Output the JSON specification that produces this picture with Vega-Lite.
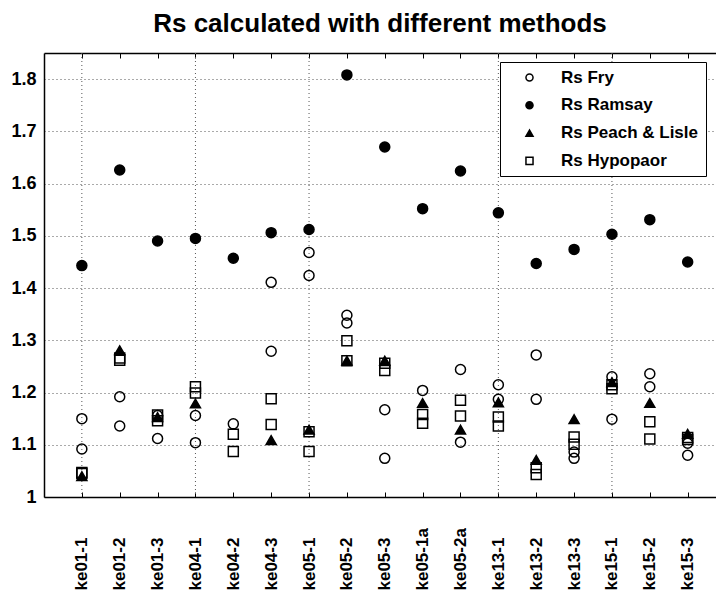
{
  "$schema": "https://vega.github.io/schema/vega-lite/v6.json",
  "autosize": {"type": "none"},
  "padding": {"left": 44, "top": 53, "right": 0, "bottom": 95},
  "width": 672,
  "height": 444,
  "background": "white",
  "title": {
    "text": "Rs calculated with different methods",
    "font": "Liberation Sans",
    "fontSize": 26,
    "fontWeight": "bold",
    "color": "black",
    "anchor": "middle",
    "baseline": "alphabetic",
    "offset": 0,
    "dy": 5
  },
  "config": {
    "view": {"stroke": null},
    "legend": {
      "orient": "none",
      "legendX": 456,
      "legendY": 9,
      "strokeColor": "black",
      "fillColor": "white",
      "padding": 7,
      "labelFont": "Liberation Sans",
      "labelFontSize": 17,
      "labelFontWeight": "bold",
      "labelColor": "black",
      "symbolSize": 50,
      "symbolStrokeColor": "black",
      "symbolStrokeWidth": 1.5,
      "symbolOffset": 14,
      "labelOffset": 23,
      "rowPadding": 9.8,
      "labelLimit": 300
    }
  },
  "datasets": {
    "groups": [
      {"sample": "ke01-1"},
      {"sample": "ke04-1"},
      {"sample": "ke05-1"},
      {"sample": "ke13-1"},
      {"sample": "ke15-1"}
    ],
    "rs": [
      {"sample": "ke01-1", "method": "Rs Fry", "value": 1.150},
      {"sample": "ke01-1", "method": "Rs Fry", "value": 1.092},
      {"sample": "ke01-2", "method": "Rs Fry", "value": 1.192},
      {"sample": "ke01-2", "method": "Rs Fry", "value": 1.136},
      {"sample": "ke01-3", "method": "Rs Fry", "value": 1.156},
      {"sample": "ke01-3", "method": "Rs Fry", "value": 1.112},
      {"sample": "ke04-1", "method": "Rs Fry", "value": 1.156},
      {"sample": "ke04-1", "method": "Rs Fry", "value": 1.104},
      {"sample": "ke04-2", "method": "Rs Fry", "value": 1.140},
      {"sample": "ke04-3", "method": "Rs Fry", "value": 1.411},
      {"sample": "ke04-3", "method": "Rs Fry", "value": 1.279},
      {"sample": "ke05-1", "method": "Rs Fry", "value": 1.468},
      {"sample": "ke05-1", "method": "Rs Fry", "value": 1.424},
      {"sample": "ke05-2", "method": "Rs Fry", "value": 1.348},
      {"sample": "ke05-2", "method": "Rs Fry", "value": 1.333},
      {"sample": "ke05-3", "method": "Rs Fry", "value": 1.167},
      {"sample": "ke05-3", "method": "Rs Fry", "value": 1.074},
      {"sample": "ke05-1a", "method": "Rs Fry", "value": 1.204},
      {"sample": "ke05-2a", "method": "Rs Fry", "value": 1.244},
      {"sample": "ke05-2a", "method": "Rs Fry", "value": 1.105},
      {"sample": "ke13-1", "method": "Rs Fry", "value": 1.215},
      {"sample": "ke13-1", "method": "Rs Fry", "value": 1.187},
      {"sample": "ke13-2", "method": "Rs Fry", "value": 1.272},
      {"sample": "ke13-2", "method": "Rs Fry", "value": 1.187},
      {"sample": "ke13-3", "method": "Rs Fry", "value": 1.086},
      {"sample": "ke13-3", "method": "Rs Fry", "value": 1.074},
      {"sample": "ke15-1", "method": "Rs Fry", "value": 1.230},
      {"sample": "ke15-1", "method": "Rs Fry", "value": 1.149},
      {"sample": "ke15-2", "method": "Rs Fry", "value": 1.236},
      {"sample": "ke15-2", "method": "Rs Fry", "value": 1.211},
      {"sample": "ke15-3", "method": "Rs Fry", "value": 1.103},
      {"sample": "ke15-3", "method": "Rs Fry", "value": 1.080},

      {"sample": "ke01-1", "method": "Rs Ramsay", "value": 1.443},
      {"sample": "ke01-2", "method": "Rs Ramsay", "value": 1.626},
      {"sample": "ke01-3", "method": "Rs Ramsay", "value": 1.490},
      {"sample": "ke04-1", "method": "Rs Ramsay", "value": 1.495},
      {"sample": "ke04-2", "method": "Rs Ramsay", "value": 1.457},
      {"sample": "ke04-3", "method": "Rs Ramsay", "value": 1.506},
      {"sample": "ke05-1", "method": "Rs Ramsay", "value": 1.512},
      {"sample": "ke05-2", "method": "Rs Ramsay", "value": 1.808},
      {"sample": "ke05-3", "method": "Rs Ramsay", "value": 1.670},
      {"sample": "ke05-1a", "method": "Rs Ramsay", "value": 1.552},
      {"sample": "ke05-2a", "method": "Rs Ramsay", "value": 1.624},
      {"sample": "ke13-1", "method": "Rs Ramsay", "value": 1.544},
      {"sample": "ke13-2", "method": "Rs Ramsay", "value": 1.447},
      {"sample": "ke13-3", "method": "Rs Ramsay", "value": 1.474},
      {"sample": "ke15-1", "method": "Rs Ramsay", "value": 1.503},
      {"sample": "ke15-2", "method": "Rs Ramsay", "value": 1.531},
      {"sample": "ke15-3", "method": "Rs Ramsay", "value": 1.450},

      {"sample": "ke01-1", "method": "Rs Peach & Lisle", "value": 1.040},
      {"sample": "ke01-2", "method": "Rs Peach & Lisle", "value": 1.281},
      {"sample": "ke01-3", "method": "Rs Peach & Lisle", "value": 1.153},
      {"sample": "ke04-1", "method": "Rs Peach & Lisle", "value": 1.179},
      {"sample": "ke04-3", "method": "Rs Peach & Lisle", "value": 1.109},
      {"sample": "ke05-1", "method": "Rs Peach & Lisle", "value": 1.129},
      {"sample": "ke05-2", "method": "Rs Peach & Lisle", "value": 1.261},
      {"sample": "ke05-3", "method": "Rs Peach & Lisle", "value": 1.261},
      {"sample": "ke05-1a", "method": "Rs Peach & Lisle", "value": 1.180},
      {"sample": "ke05-2a", "method": "Rs Peach & Lisle", "value": 1.129},
      {"sample": "ke13-1", "method": "Rs Peach & Lisle", "value": 1.181},
      {"sample": "ke13-2", "method": "Rs Peach & Lisle", "value": 1.071},
      {"sample": "ke13-3", "method": "Rs Peach & Lisle", "value": 1.149},
      {"sample": "ke15-1", "method": "Rs Peach & Lisle", "value": 1.220},
      {"sample": "ke15-2", "method": "Rs Peach & Lisle", "value": 1.180},
      {"sample": "ke15-3", "method": "Rs Peach & Lisle", "value": 1.121},

      {"sample": "ke01-1", "method": "Rs Hypopaor", "value": 1.047},
      {"sample": "ke01-1", "method": "Rs Hypopaor", "value": 1.045},
      {"sample": "ke01-2", "method": "Rs Hypopaor", "value": 1.266},
      {"sample": "ke01-2", "method": "Rs Hypopaor", "value": 1.262},
      {"sample": "ke01-3", "method": "Rs Hypopaor", "value": 1.157},
      {"sample": "ke01-3", "method": "Rs Hypopaor", "value": 1.146},
      {"sample": "ke04-1", "method": "Rs Hypopaor", "value": 1.211},
      {"sample": "ke04-1", "method": "Rs Hypopaor", "value": 1.199},
      {"sample": "ke04-2", "method": "Rs Hypopaor", "value": 1.120},
      {"sample": "ke04-2", "method": "Rs Hypopaor", "value": 1.087},
      {"sample": "ke04-3", "method": "Rs Hypopaor", "value": 1.188},
      {"sample": "ke04-3", "method": "Rs Hypopaor", "value": 1.139},
      {"sample": "ke05-1", "method": "Rs Hypopaor", "value": 1.125},
      {"sample": "ke05-1", "method": "Rs Hypopaor", "value": 1.087},
      {"sample": "ke05-2", "method": "Rs Hypopaor", "value": 1.299},
      {"sample": "ke05-2", "method": "Rs Hypopaor", "value": 1.261},
      {"sample": "ke05-3", "method": "Rs Hypopaor", "value": 1.256},
      {"sample": "ke05-3", "method": "Rs Hypopaor", "value": 1.242},
      {"sample": "ke05-1a", "method": "Rs Hypopaor", "value": 1.158},
      {"sample": "ke05-1a", "method": "Rs Hypopaor", "value": 1.141},
      {"sample": "ke05-2a", "method": "Rs Hypopaor", "value": 1.185},
      {"sample": "ke05-2a", "method": "Rs Hypopaor", "value": 1.155},
      {"sample": "ke13-1", "method": "Rs Hypopaor", "value": 1.153},
      {"sample": "ke13-1", "method": "Rs Hypopaor", "value": 1.136},
      {"sample": "ke13-2", "method": "Rs Hypopaor", "value": 1.056},
      {"sample": "ke13-2", "method": "Rs Hypopaor", "value": 1.043},
      {"sample": "ke13-3", "method": "Rs Hypopaor", "value": 1.115},
      {"sample": "ke13-3", "method": "Rs Hypopaor", "value": 1.101},
      {"sample": "ke15-1", "method": "Rs Hypopaor", "value": 1.215},
      {"sample": "ke15-1", "method": "Rs Hypopaor", "value": 1.207},
      {"sample": "ke15-2", "method": "Rs Hypopaor", "value": 1.144},
      {"sample": "ke15-2", "method": "Rs Hypopaor", "value": 1.111},
      {"sample": "ke15-3", "method": "Rs Hypopaor", "value": 1.114},
      {"sample": "ke15-3", "method": "Rs Hypopaor", "value": 1.110}
    ]
  },
  "layer": [
    {
      "data": {"name": "groups"},
      "mark": {"type": "rule", "strokeDash": [1, 3], "color": "#555555", "strokeWidth": 1},
      "encoding": {
        "x": {
          "field": "sample",
          "type": "nominal",
          "scale": {
            "type": "point",
            "domain": ["ke01-1", "ke01-2", "ke01-3", "ke04-1", "ke04-2", "ke04-3", "ke05-1", "ke05-2", "ke05-3", "ke05-1a", "ke05-2a", "ke13-1", "ke13-2", "ke13-3", "ke15-1", "ke15-2", "ke15-3"],
            "padding": 0.874,
            "align": 0.572
          },
          "axis": null
        }
      }
    },
    {
      "data": {"name": "rs"},
      "mark": {"type": "point", "filled": true, "strokeWidth": 1.5, "size": 100, "opacity": 1},
      "encoding": {
        "x": {
          "field": "sample",
          "type": "nominal",
          "scale": {
            "type": "point",
            "domain": ["ke01-1", "ke01-2", "ke01-3", "ke04-1", "ke04-2", "ke04-3", "ke05-1", "ke05-2", "ke05-3", "ke05-1a", "ke05-2a", "ke13-1", "ke13-2", "ke13-3", "ke15-1", "ke15-2", "ke15-3"],
            "padding": 0.874,
            "align": 0.572
          },
          "axis": {
            "orient": "bottom",
            "title": null,
            "labelAngle": -90,
            "labelAlign": "left",
            "labelBaseline": "middle",
            "labelPadding": 98,
            "labelFont": "Liberation Sans",
            "labelFontSize": 17,
            "labelFontWeight": "bold",
            "labelColor": "black",
            "labelOverlap": false,
            "tickSize": -5,
            "tickColor": "black",
            "tickWidth": 1,
            "domainColor": "black",
            "domainWidth": 1.5,
            "grid": false
          }
        },
        "y": {
          "field": "value",
          "type": "quantitative",
          "scale": {"domain": [1, 1.85], "nice": false, "zero": false},
          "axis": {
            "title": null,
            "values": [1, 1.1, 1.2, 1.3, 1.4, 1.5, 1.6, 1.7, 1.8],
            "format": "~g",
            "labelFont": "Liberation Sans",
            "labelFontSize": 18,
            "labelFontWeight": "bold",
            "labelColor": "black",
            "labelPadding": 8,
            "ticks": false,
            "domainColor": "black",
            "domainWidth": 1.5,
            "grid": true,
            "gridDash": [1, 3],
            "gridColor": "#555555",
            "gridWidth": 1
          }
        },
        "shape": {
          "field": "method",
          "type": "nominal",
          "scale": {
            "domain": ["Rs Fry", "Rs Ramsay", "Rs Peach & Lisle", "Rs Hypopaor"],
            "range": ["circle", "circle", "triangle-up", "square"]
          },
          "legend": {"title": null}
        },
        "fill": {
          "field": "method",
          "type": "nominal",
          "scale": {
            "domain": ["Rs Fry", "Rs Ramsay", "Rs Peach & Lisle", "Rs Hypopaor"],
            "range": ["transparent", "black", "black", "transparent"]
          },
          "legend": {"title": null}
        },
        "stroke": {
          "field": "method",
          "type": "nominal",
          "scale": {
            "domain": ["Rs Fry", "Rs Ramsay", "Rs Peach & Lisle", "Rs Hypopaor"],
            "range": ["black", "black", "black", "black"]
          },
          "legend": {"title": null}
        }
      }
    },
    {
      "data": {"name": "rs"},
      "mark": {"type": "point", "opacity": 0},
      "encoding": {
        "x": {
          "field": "sample",
          "type": "nominal",
          "scale": {
            "type": "point",
            "domain": ["ke01-1", "ke01-2", "ke01-3", "ke04-1", "ke04-2", "ke04-3", "ke05-1", "ke05-2", "ke05-3", "ke05-1a", "ke05-2a", "ke13-1", "ke13-2", "ke13-3", "ke15-1", "ke15-2", "ke15-3"],
            "padding": 0.874,
            "align": 0.572
          },
          "axis": {
            "orient": "top",
            "title": null,
            "labels": false,
            "tickSize": -5,
            "tickColor": "black",
            "tickWidth": 1,
            "domainColor": "black",
            "domainWidth": 1.5,
            "grid": false
          }
        },
        "y": {
          "field": "value",
          "type": "quantitative",
          "scale": {"domain": [1, 1.85], "nice": false, "zero": false}
        }
      }
    }
  ],
  "resolve": {"axis": {"x": "independent"}}
}
